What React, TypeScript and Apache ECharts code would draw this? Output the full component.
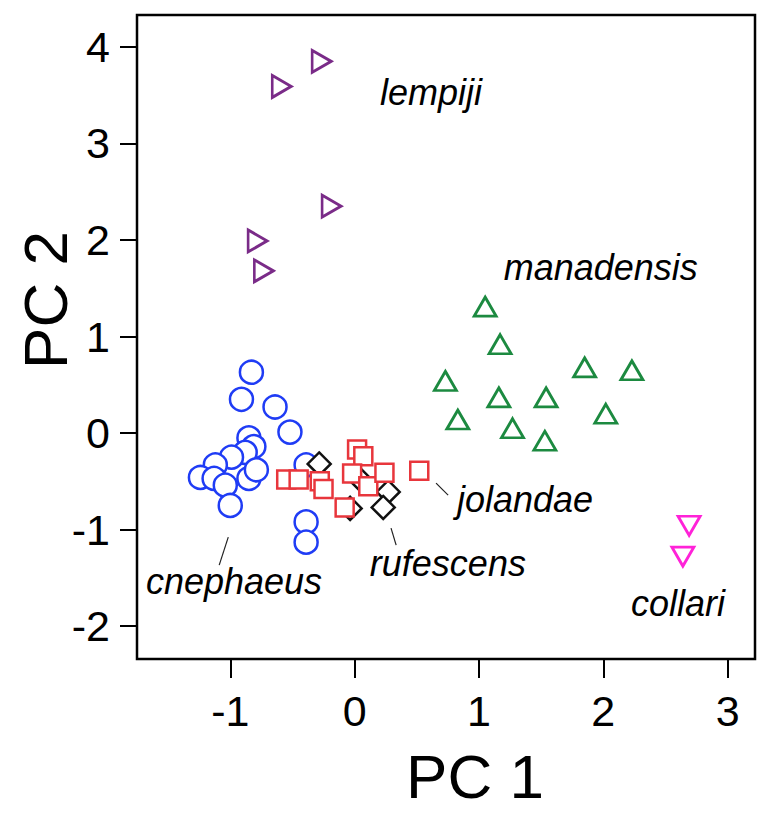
import React, { useEffect, useRef } from "react";
import * as echarts from "echarts";

// Species point coordinates (PC1, PC2)
const cnephaeusX = [-0.83, -0.91, -0.64, -0.52, -0.85, -0.81, -0.88, -0.99, -1.12, -1.24, -1.13, -1.04, -1.0, -0.85, -0.79, -0.39, -0.39, -0.39];
const cnephaeusY = [0.63, 0.35, 0.27, 0.01, -0.05, -0.14, -0.2, -0.25, -0.33, -0.46, -0.47, -0.54, -0.75, -0.47, -0.38, -0.33, -0.92, -1.13];

const rufescensX = [-0.285, 0.036, -0.036, 0.27, 0.23];
const rufescensY = [-0.32, -0.47, -0.78, -0.61, -0.77];

const jolandaeX = [-0.55, -0.45, -0.28, -0.25, -0.08, 0.02, 0.07, -0.02, 0.11, 0.24, 0.52];
const jolandaeY = [-0.48, -0.48, -0.5, -0.58, -0.77, -0.17, -0.24, -0.42, -0.55, -0.41, -0.39];

const manadensisX = [1.05, 1.17, 0.73, 0.83, 1.16, 1.27, 1.54, 1.53, 1.85, 2.23, 2.02];
const manadensisY = [1.31, 0.92, 0.54, 0.14, 0.37, 0.05, 0.37, -0.08, 0.68, 0.65, 0.2];

const lempijiX = [-0.265, -0.586, -0.185, -0.78, -0.73];
const lempijiY = [3.85, 3.59, 2.35, 1.99, 1.68];

const collariX = [2.69, 2.64];
const collariY = [-0.96, -1.28];

// Axis ticks
const xTicks = [-1, 0, 1, 2, 3];
const yTicks = [-2, -1, 0, 1, 2, 3, 4];

// Species labels (data coordinates of label centres)
const labelNames = ["lempiji", "manadensis", "jolandae", "rufescens", "cnephaeus", "collari"];
const labelX = [0.615, 1.98, 1.37, 0.75, -0.97, 2.6];
const labelY = [3.53, 1.72, -0.69, -1.35, -1.54, -1.77];

// Leader lines [x1, y1, x2, y2]
const leaderLines = [
  [-1.016, -1.078, -1.089, -1.368],
  [0.293, -0.984, 0.334, -1.161],
  [0.655, -0.518, 0.752, -0.642],
];

const zip = (xs: number[], ys: number[]) => xs.map((x, i) => [x, ys[i]]);

const FONT = "Arial, 'Liberation Sans', sans-serif";

export default function App() {
  const ref = useRef<HTMLDivElement>(null);
  useEffect(() => {
    if (!ref.current) return;
    const chart = echarts.init(ref.current, undefined, { renderer: "svg" });
    const mk = (name: string, xs: number[], ys: number[], symbol: string, size: any, color: string, rotate = 0, bw = 2.5) => ({
      name,
      type: "scatter",
      data: zip(xs, ys),
      symbol,
      symbolSize: size,
      symbolRotate: rotate,
      itemStyle: { color: "#fff", borderColor: color, borderWidth: bw, opacity: 1 },
      emphasis: { disabled: true },
    });
    chart.setOption({
      animation: false,
      grid: { left: 137, top: 15, right: 17, bottom: 156, show: true, borderColor: "#000", borderWidth: 2.5, backgroundColor: "transparent" },
      xAxis: {
        type: "value",
        min: -1.75,
        max: 3.22,
        splitLine: { show: false },
        axisLine: { show: false, onZero: false },
        axisTick: { show: true, customValues: xTicks, length: 19, lineStyle: { color: "#000", width: 2 } },
        axisLabel: { customValues: xTicks, fontSize: 43, color: "#000", fontFamily: FONT, margin: 30 },
      },
      yAxis: {
        type: "value",
        min: -2.34,
        max: 4.33,
        splitLine: { show: false },
        axisLine: { show: false, onZero: false },
        axisTick: { show: true, customValues: yTicks, length: 17, lineStyle: { color: "#000", width: 2 } },
        axisLabel: { customValues: yTicks, fontSize: 43, color: "#000", fontFamily: FONT, margin: 27 },
      },
      series: [
        mk("cnephaeus", cnephaeusX, cnephaeusY, "circle", 23, "#1f3cf5"),
        mk("rufescens", rufescensX, rufescensY, "diamond", 23, "#111111"),
        mk("jolandae", jolandaeX, jolandaeY, "rect", 18, "#e8363c"),
        mk("manadensis", manadensisX, manadensisY, "triangle", [22, 19], "#1c8a40", 0, 2.8),
        mk("lempiji", lempijiX, lempijiY, "triangle", [22, 19], "#7a2b88", -90, 2.8),
        mk("collari", collariX, collariY, "triangle", [22, 19], "#ff22d8", 180, 2.8),
      ],
    });

    const graphics: any[] = [];
    labelNames.forEach((n, i) => {
      const p = chart.convertToPixel({ gridIndex: 0 }, [labelX[i], labelY[i]]) as number[];
      graphics.push({
        type: "text",
        x: p[0],
        y: p[1],
        style: { text: n, fontSize: 36, fontStyle: "italic", fontFamily: FONT, fill: "#000", align: "center", verticalAlign: "middle" },
      });
    });
    leaderLines.forEach((l) => {
      const a = chart.convertToPixel({ gridIndex: 0 }, [l[0], l[1]]) as number[];
      const b = chart.convertToPixel({ gridIndex: 0 }, [l[2], l[3]]) as number[];
      graphics.push({ type: "line", shape: { x1: a[0], y1: a[1], x2: b[0], y2: b[1] }, style: { stroke: "#222", lineWidth: 1.2 } });
    });
    graphics.push({
      type: "text",
      x: 475,
      y: 776,
      style: { text: "PC 1", fontSize: 62, fontFamily: FONT, fill: "#000", align: "center", verticalAlign: "middle" },
    });
    graphics.push({
      type: "text",
      x: 45,
      y: 300,
      rotation: Math.PI / 2,
      style: { text: "PC 2", fontSize: 62, fontFamily: FONT, fill: "#000", align: "center", verticalAlign: "middle" },
    });
    chart.setOption({ graphic: graphics });

    return () => chart.dispose();
  }, []);
  return <div ref={ref} style={{ position: "absolute", left: 0, top: 0, width: 772, height: 815, background: "#fff" }} />;
}
